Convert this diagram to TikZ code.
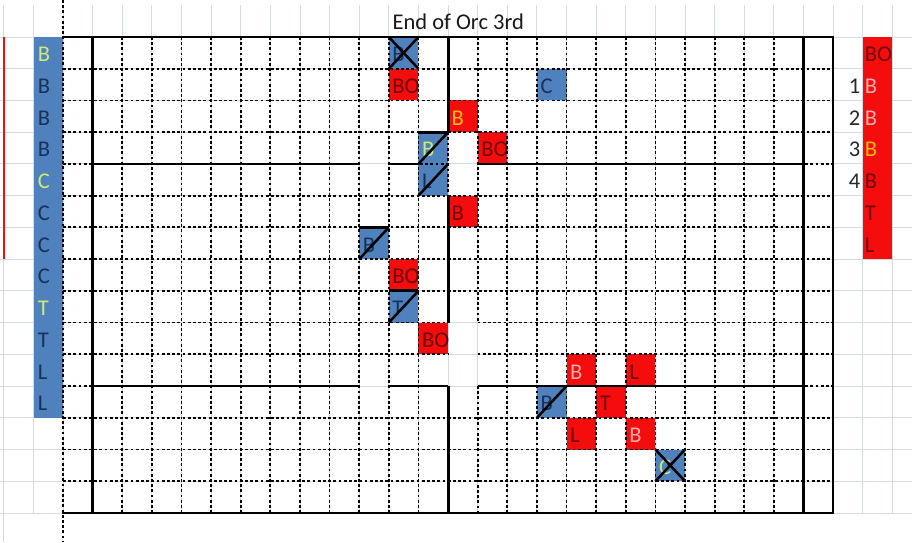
\documentclass[tikz,border=0pt]{standalone}
\usepackage{fontspec}
\setmainfont{Carlito}
\definecolor{cellblue}{RGB}{79,129,189}
\definecolor{cellred}{RGB}{245,12,12}
\definecolor{navyT}{RGB}{23,50,90}
\definecolor{maroonT}{RGB}{110,0,0}
\definecolor{ygT}{RGB}{205,235,120}
\definecolor{orangeT}{RGB}{255,192,0}
\definecolor{pinkT}{RGB}{255,175,175}
\definecolor{gridgray}{RGB}{214,218,226}
\definecolor{numT}{RGB}{40,40,40}
\begin{document}
\begin{tikzpicture}[x=1pt,y=-1pt,
  gridline/.style={draw=gridgray,line width=0.9pt},
  dotline/.style={line width=1.8pt,dash pattern=on 2.8pt off 2.4pt},
  thickline/.style={line width=2.9pt},
  slash/.style={line width=2.5pt},
  lbl/.style={anchor=base west,inner sep=0pt,font=\fontsize{22.5}{25}\selectfont}]
\useasboundingbox (0,0) rectangle (912,542);
\fill[white] (0,0) rectangle (912,542);
% spreadsheet gridlines
\foreach \c in {-2,...,28} \draw[gridline] ({63+29.62*\c},5) -- ({63+29.62*\c},513);
\foreach \r in {0,...,15} \draw[gridline] (0,{37+31.73*\r}) -- (912,{37+31.73*\r});
\draw[gridline] (3.76,513) -- (3.76,542);
% left red edge
\draw[cellred,line width=1.8pt] (4.2,37) -- (4.2,259.1);
% left label column
\fill[cellblue] (34,37) rectangle (63,{37+31.73*12});
\foreach \r/\t/\s [count=\i] in {0/ygT/B,1/navyT/B,2/navyT/B,3/navyT/B,4/ygT/C,5/navyT/C,6/navyT/C,7/navyT/C,8/ygT/T,9/navyT/T,10/navyT/L,11/navyT/L}
  \node[lbl,text=\t] (left\i) at (37.6,{37+31.73*(\r+1)-7}) {\s};
% right red column
\fill[cellred] (862.7,37) rectangle (892.4,{37+31.73*7});
\foreach \r/\t/\s [count=\i] in {0/maroonT/BO,1/pinkT/B,2/pinkT/B,3/orangeT/B,4/maroonT/B,5/maroonT/T,6/maroonT/L}
  \node[lbl,text=\t] (right\i) at (864.6,{37+31.73*(\r+1)-7}) {\s};
\foreach \r in {1,...,4}
  \node[lbl,anchor=base east,text=numT] (num\r) at (860.5,{37+31.73*(\r+1)-7}) {\r};
% filled cells
\foreach \c/\r/\f in {11/0/cellblue,11/1/cellred,16/1/cellblue,13/2/cellred,12/3/cellblue,14/3/cellred,12/4/cellblue,13/5/cellred,10/6/cellblue,11/7/cellred,11/8/cellblue,12/9/cellred,17/10/cellred,19/10/cellred,16/11/cellblue,18/11/cellred,17/12/cellred,19/12/cellred,20/13/cellblue}
  \fill[\f] ({63+29.62*\c},{37+31.73*\r}) rectangle ++(29.62,31.73);
\foreach \c/\r/\t/\s [count=\i] in {11/0/navyT/B,11/1/maroonT/BO,16/1/navyT/C,13/2/orangeT/B,12/3/ygT/B,14/3/maroonT/BO,12/4/navyT/L,13/5/maroonT/B,10/6/navyT/B,11/7/maroonT/BO,11/8/navyT/T,12/9/maroonT/BO,17/10/pinkT/B,19/10/maroonT/L,16/11/navyT/B,18/11/maroonT/T,17/12/maroonT/L,19/12/pinkT/B,20/13/ygT/C}
  \node[lbl,text=\t] (cell\i) at ({63+29.62*\c+3.4},{37+31.73*(\r+1)-7}) {\s};
% title
\node[lbl,text=black!90] (title) at (392.4,29.5) {End of Orc 3rd};
% dotted borders
\draw[dotline] (63,0) -- (63,542);
\foreach \c in {1,...,12} \draw[dotline] ({63+29.62*\c},37) -- ({63+29.62*\c},513);
\foreach \c in {15,...,25} \draw[dotline] ({63+29.62*\c},37) -- ({63+29.62*\c},513);
\draw[dotline] (448.06,132.2) -- (448.06,195.7);
\draw[dotline] (477.68,37) -- (477.68,322.6);
\draw[dotline] (477.68,386) -- (477.68,513);
\foreach \r in {1,2,3,5,6,7,8,12,13,14} \draw[dotline] (63,{37+31.73*\r}) -- (833,{37+31.73*\r});
\foreach \r in {9,10} {
  \draw[dotline] (63,{37+31.73*\r}) -- (448.06,{37+31.73*\r});
  \draw[dotline] (477.68,{37+31.73*\r}) -- (833,{37+31.73*\r});
}
\foreach \r in {4,11} {
  \draw[dotline] (63,{37+31.73*\r}) -- (359.2,{37+31.73*\r});
  \draw[dotline] (388.8,{37+31.73*\r}) -- (448.06,{37+31.73*\r});
  \draw[dotline] (477.68,{37+31.73*\r}) -- (833,{37+31.73*\r});
}
% thick borders
\draw[thickline,line join=miter] (62.3,37) -- (833,37) -- (833,513) -- (62.3,513);
\draw[thickline] (92.6,37) -- (92.6,513);
\draw[thickline] (803.5,37) -- (803.5,513);
\draw[thickline] (448.06,37) -- (448.06,132.2);
\draw[thickline] (448.06,195.7) -- (448.06,322.6);
\draw[thickline] (448.06,386) -- (448.06,513);
\draw[thickline] (92.6,164) -- (359.2,164);
\draw[thickline] (388.8,164) -- (418.4,164);
\draw[thickline] (477.68,164) -- (803.5,164);
\draw[thickline] (92.6,386) -- (359.2,386);
\draw[thickline] (388.8,386) -- (448.06,386);
\draw[thickline] (477.68,386) -- (803.5,386);
\draw[thickline] (418.4,132.2) -- (448.06,132.2);
\draw[thickline] (359.2,227.4) -- (388.8,227.4);
\draw[thickline] (388.8,290.9) -- (418.4,290.9);
% diagonal slashes
\foreach \c/\r in {12/3,12/4,10/6,11/8,16/11}
  \draw[slash] ({63+29.62*\c},{37+31.73*(\r+1)}) -- ({63+29.62*(\c+1)},{37+31.73*\r});
% crosses
\foreach \c/\r in {11/0,20/13} {
  \draw[slash] ({63+29.62*\c},{37+31.73*(\r+1)}) -- ({63+29.62*(\c+1)},{37+31.73*\r});
  \draw[slash] ({63+29.62*\c},{37+31.73*\r}) -- ({63+29.62*(\c+1)},{37+31.73*(\r+1)});
}
\end{tikzpicture}
\end{document}
